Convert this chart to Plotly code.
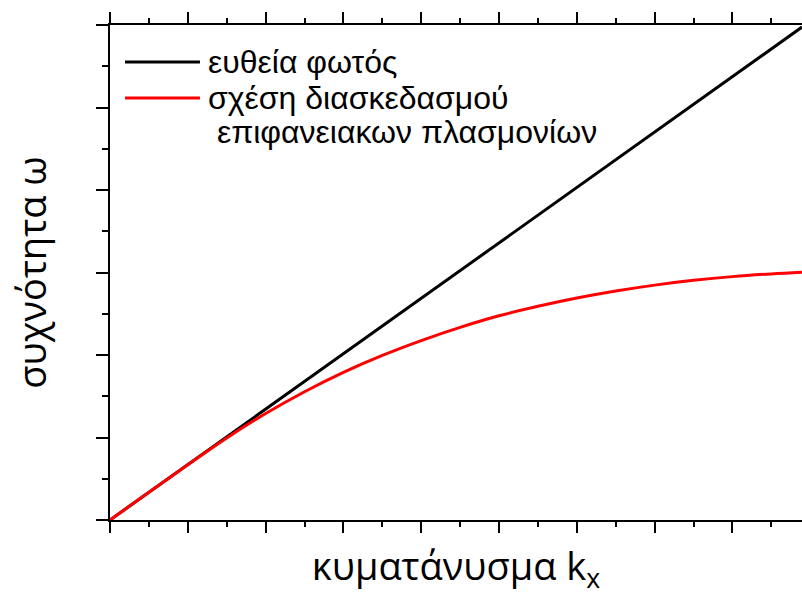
import plotly.graph_objects as go

# wavevector (arbitrary units) and frequencies
k_light = [0.0, 8.894]
w_light = [0.0, 5.975]

k_spp = [0.0, 0.5, 1.0, 1.5, 2.0, 2.5, 3.0, 3.5, 4.0, 4.5, 5.0, 5.5, 6.0, 6.5, 7.0, 7.5, 8.0, 8.5, 8.894]
w_spp = [0.0, 0.336, 0.670, 0.995, 1.29, 1.555, 1.79, 1.995, 2.175, 2.335, 2.475, 2.59, 2.69, 2.775, 2.847, 2.905, 2.95, 2.983, 3.003]

legend_labels = ["ευθεία φωτός", "σχέση διασκεδασμού", " επιφανειακων πλασμονίων"]
x_title = "\u00a0\u00a0κυματάνυσμα k<sub>x</sub>"
y_title = "συχνότητα ω"

fig = go.Figure()
fig.add_trace(go.Scatter(x=k_light, y=w_light, mode="lines",
                         line=dict(color="black", width=3), showlegend=False))
fig.add_trace(go.Scatter(x=k_spp, y=w_spp, mode="lines", line_shape="spline",
                         line=dict(color="#ff0000", width=3), showlegend=False))

axis_common = dict(showgrid=False, zeroline=False, showline=True, linecolor="black",
                   linewidth=2, ticks="outside", tickcolor="black", tickwidth=2,
                   showticklabels=False)

fig.update_xaxes(range=[0, 8.894], dtick=1, tick0=0, ticklen=11, mirror="ticks",
                 minor=dict(dtick=0.5, ticks="outside", ticklen=5, tickwidth=2, tickcolor="black"),
                 title=dict(text=x_title, font=dict(family="Open Sans", size=38, color="black"),
                            standoff=21),
                 **axis_common)
fig.update_yaxes(range=[0, 6], dtick=1, tick0=0, ticklen=12,
                 minor=dict(dtick=0.5, ticks="outside", ticklen=6, tickwidth=2, tickcolor="black"),
                 title=dict(text=y_title, font=dict(family="Open Sans", size=38, color="black"),
                            standoff=38),
                 **axis_common)

# manual legend (sample lines + labels)
fig.add_shape(type="line", xref="paper", yref="paper", x0=0.0217, x1=0.130,
              y0=(520 - 62) / 495, y1=(520 - 62) / 495, line=dict(color="black", width=3))
fig.add_shape(type="line", xref="paper", yref="paper", x0=0.0217, x1=0.130,
              y0=(520 - 98) / 495, y1=(520 - 98) / 495, line=dict(color="#ff0000", width=3))
for lbl, yy in zip(legend_labels, [62, 98, 132]):
    fig.add_annotation(text=lbl, xref="paper", yref="paper", x=(206 - 110) / 692,
                       y=(520 - yy) / 495, xanchor="left", yanchor="middle", showarrow=False,
                       font=dict(family="Liberation Sans", size=32, color="black"))

fig.update_layout(width=802, height=597, margin=dict(l=110, r=0, t=25, b=77),
                  plot_bgcolor="white", paper_bgcolor="white")

fig.write_html("out.html", config={"displayModeBar": False},
               post_script="document.body.style.margin='0';document.body.style.overflow='hidden';")
